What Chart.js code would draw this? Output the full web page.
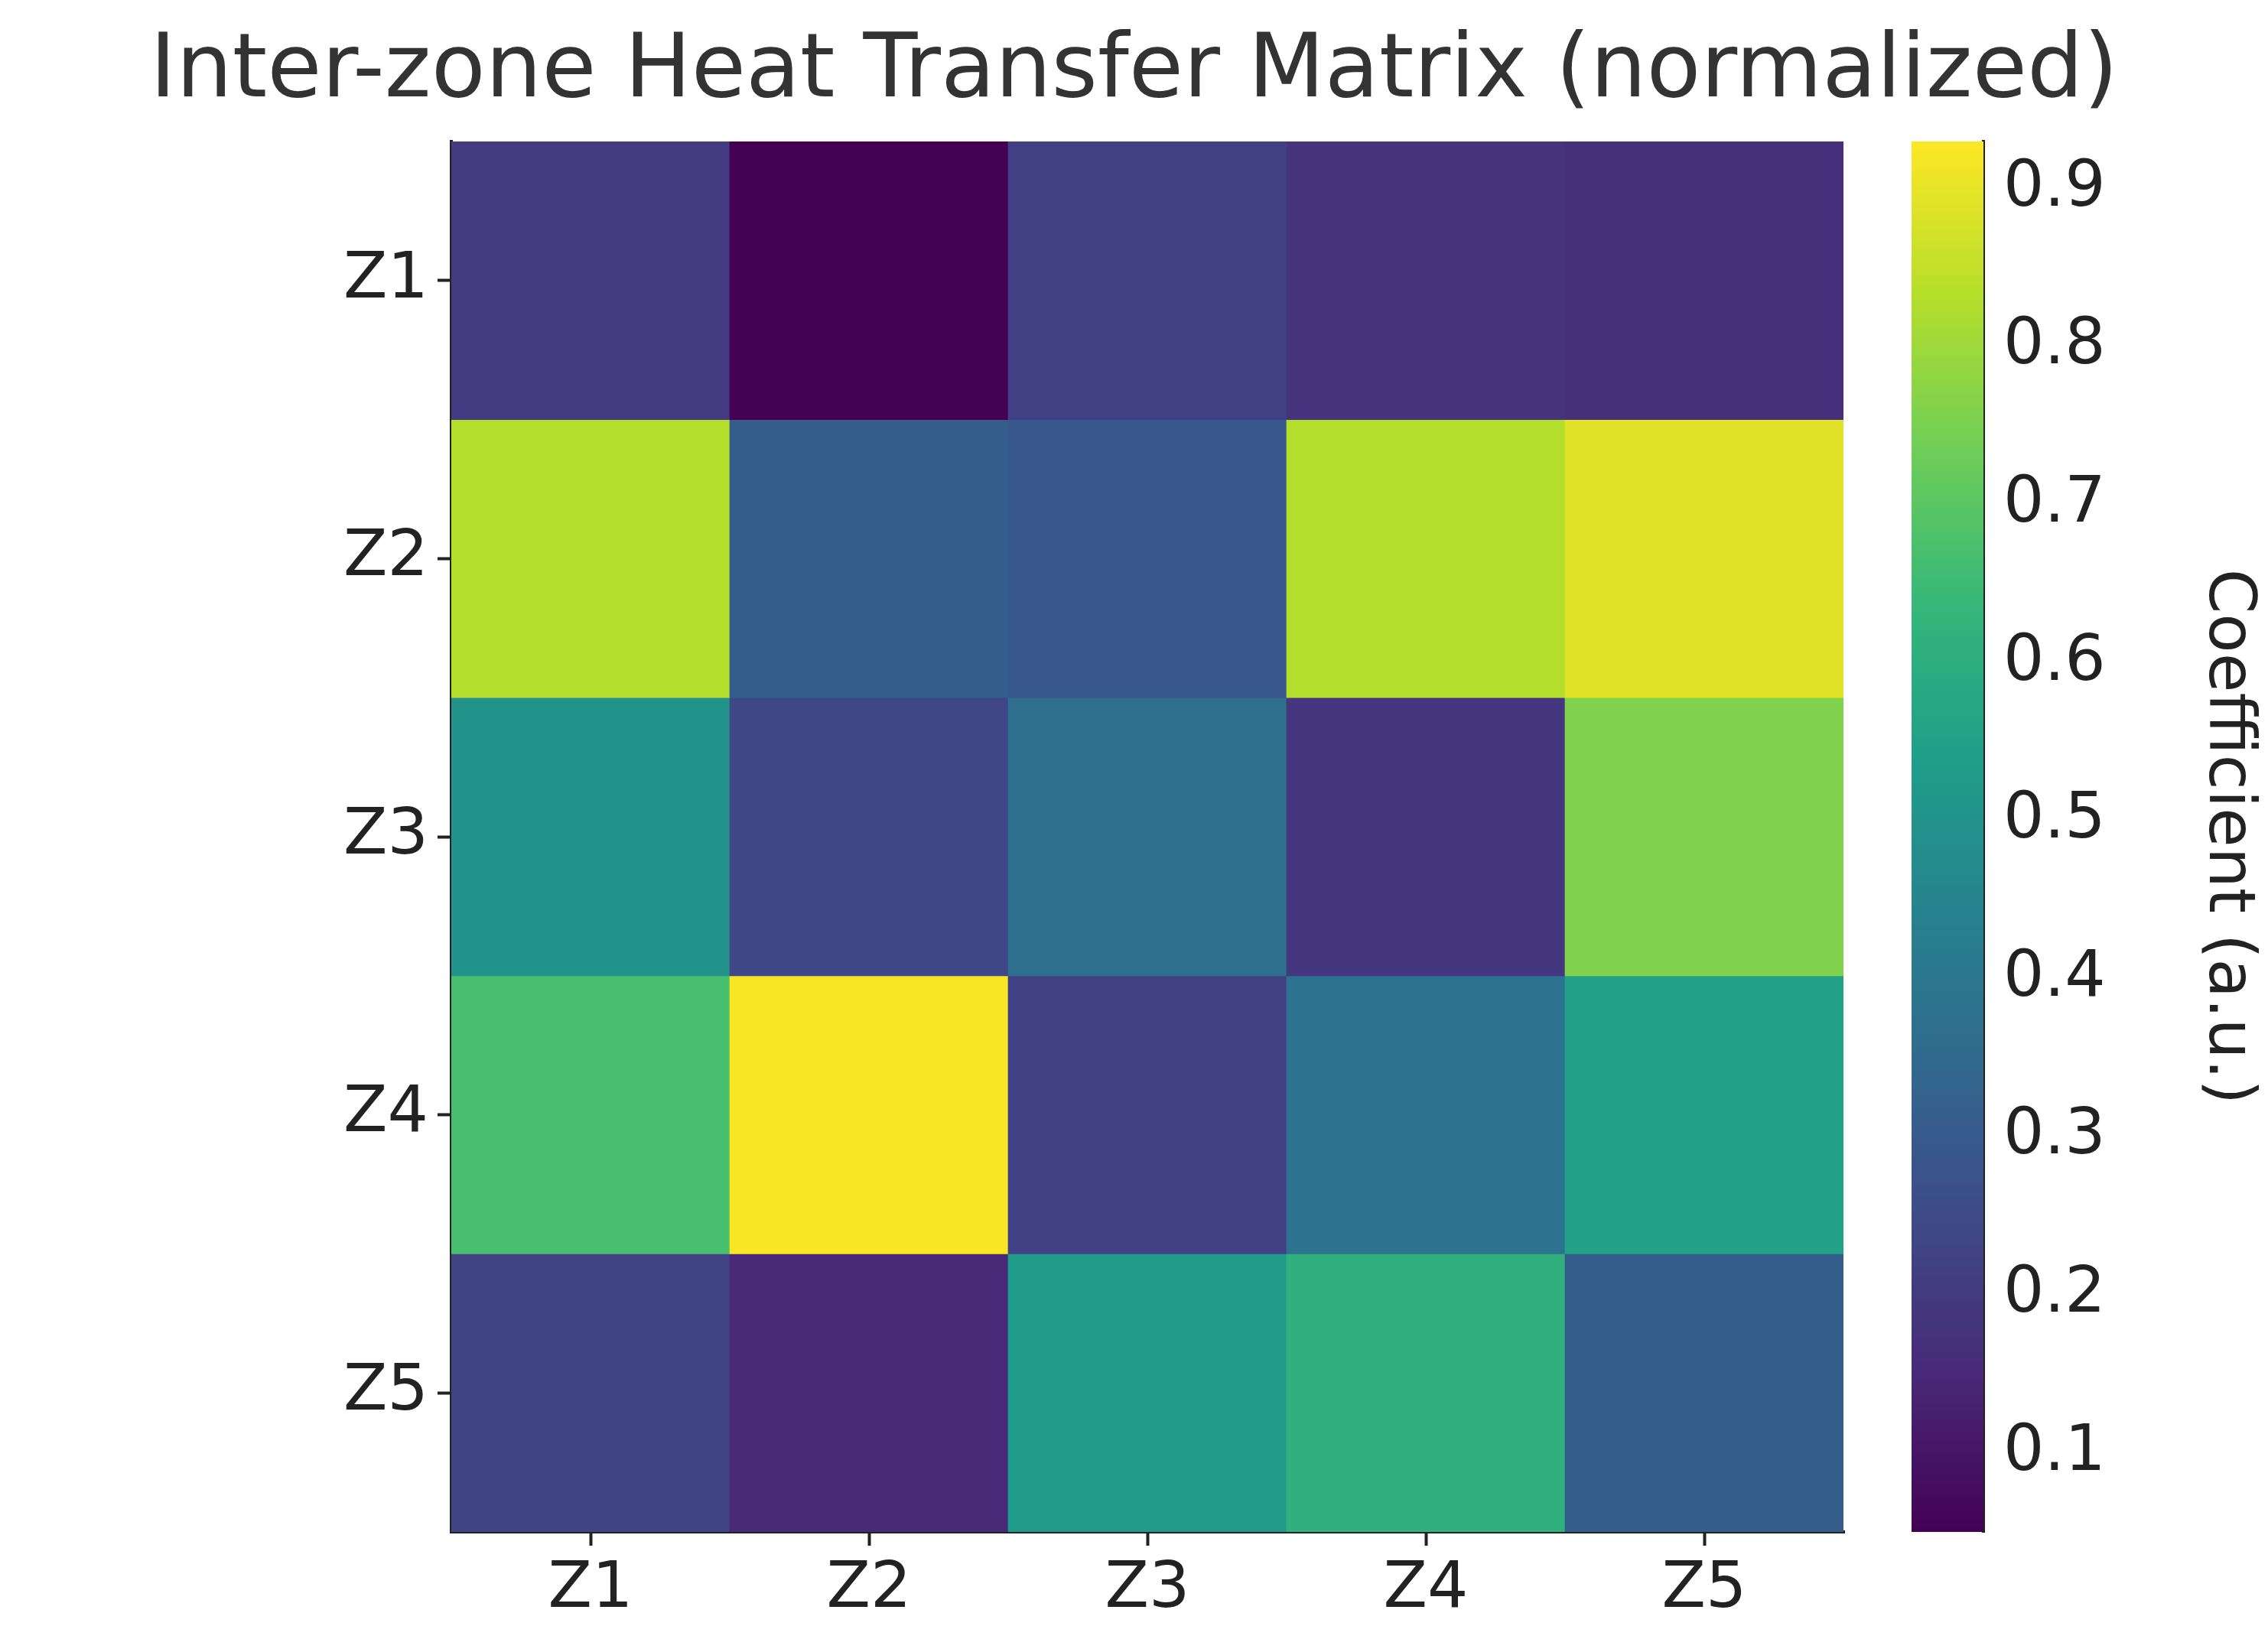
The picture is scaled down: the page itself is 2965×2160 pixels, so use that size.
<!DOCTYPE html>
<html>
<head>
<meta charset="utf-8">
<script src="https://cdn.jsdelivr.net/npm/chart.js@4"></script>
<style>
  body { margin: 0; background: #fff; width: 2965px; height: 2160px; position: relative; overflow: hidden; font-family: "DejaVu Sans", sans-serif; }
  #title { position: absolute; left: 0; top: 18px; width: 2965px; text-align: center; font-size: 116px; color: #333; }
  #heat { position: absolute; left: 0; top: 0; }
  #cbar { position: absolute; left: 2460px; top: 0; }
</style>
</head>
<body>
<div id="title">Inter-zone Heat Transfer Matrix (normalized)</div>
<canvas id="heat" width="2440" height="2160"></canvas>
<canvas id="cbar" width="505" height="2160"></canvas>
<script>
const zones = ['Z1','Z2','Z3','Z4','Z5'];
// rows = source zone (y), columns = target zone (x)
const rowZ1 = [0.20, 0.05, 0.22, 0.18, 0.17];
const rowZ2 = [0.83, 0.31, 0.29, 0.83, 0.89];
const rowZ3 = [0.50, 0.24, 0.37, 0.19, 0.76];
const rowZ4 = [0.67, 0.92, 0.22, 0.38, 0.55];
const rowZ5 = [0.23, 0.15, 0.53, 0.61, 0.31];
const rows = [rowZ1, rowZ2, rowZ3, rowZ4, rowZ5];
const vmin = 0.05, vmax = 0.93;
const cbarTicks = [0.1,0.2,0.3,0.4,0.5,0.6,0.7,0.8,0.9];

const viridis = ['#440154','#482878','#3e4989','#31688e','#26828e','#1f9e89','#35b779','#6ece58','#b5de2b','#fde725'];
function hex(h){ return [1,3,5].map(i => parseInt(h.substr(i,2),16)); }
function cmap(v){
  let t = Math.max(0, Math.min(1, (v - vmin) / (vmax - vmin))) * (viridis.length - 1);
  let i = Math.min(Math.floor(t), viridis.length - 2), f = t - i;
  let a = hex(viridis[i]), b = hex(viridis[i+1]);
  return 'rgb(' + a.map((c,k) => Math.round(c + (b[k]-c)*f)).join(',') + ')';
}

const tickFont = { family: 'DejaVu Sans', size: 84 };
const gridDash = { color: 'rgba(200,200,200,0.8)', borderDash: [12, 8], lineWidth: 3, offset: false,
                   drawTicks: true, tickLength: 18, tickColor: '#222', tickWidth: 4 };

new Chart('heat', {
  type: 'bar',
  data: {
    labels: zones,
    datasets: rows.map((r, ri) => ({
      data: r.map(() => [ri - 0.5, ri + 0.5]),
      backgroundColor: r.map(cmap),
      grouped: false,
      barPercentage: 1,
      categoryPercentage: 1,
      borderWidth: 0
    }))
  },
  options: {
    responsive: false,
    animation: false,
    layout: { padding: { top: 185, right: 30, left: 0, bottom: 0 } },
    plugins: { legend: { display: false }, tooltip: { enabled: false } },
    scales: {
      x: {
        z: 1,
        grid: gridDash,
        border: { color: '#222', width: 4 },
        ticks: { font: tickFont, color: '#222', padding: 8 },
        afterFit: s => { s.height = 157; }
      },
      y: {
        z: 1,
        reverse: true, min: -0.5, max: 4.5,
        afterBuildTicks: s => { s.ticks = zones.map((_, i) => ({ value: i })); },
        grid: gridDash,
        border: { color: '#222', width: 4 },
        ticks: { font: tickFont, color: '#222', padding: 12, callback: v => zones[v] },
        afterFit: s => { s.width = 590; }
      }
    }
  }
});

new Chart('cbar', {
  type: 'bar',
  data: {
    labels: [''],
    datasets: [{
      data: [[vmin, vmax]],
      barPercentage: 1, categoryPercentage: 1, borderWidth: 0,
      backgroundColor: ctx => {
        const a = ctx.chart.chartArea;
        if (!a) return viridis[0];
        const g = ctx.chart.ctx.createLinearGradient(0, a.bottom, 0, a.top);
        viridis.forEach((c, i) => g.addColorStop(i / (viridis.length - 1), c));
        return g;
      }
    }]
  },
  options: {
    responsive: false,
    animation: false,
    layout: { padding: { top: 185, left: 39, right: 0, bottom: 157 } },
    plugins: { legend: { display: false }, tooltip: { enabled: false } },
    scales: {
      x: { display: false },
      y: {
        position: 'right', min: vmin, max: vmax,
        afterBuildTicks: s => { s.ticks = cbarTicks.map(v => ({ value: v })); },
        grid: { display: false, drawTicks: true, tickLength: 18, tickColor: '#222', tickWidth: 4 },
        border: { color: '#222', width: 4 },
        ticks: { font: tickFont, color: '#222', padding: 8, callback: v => v.toFixed(1) },
        title: { display: true, text: 'Coefficient (a.u.)', font: { family: 'DejaVu Sans', size: 84 }, color: '#222' },
        afterFit: s => { s.width = 372; }
      }
    }
  }
});
</script>
</body>
</html>
